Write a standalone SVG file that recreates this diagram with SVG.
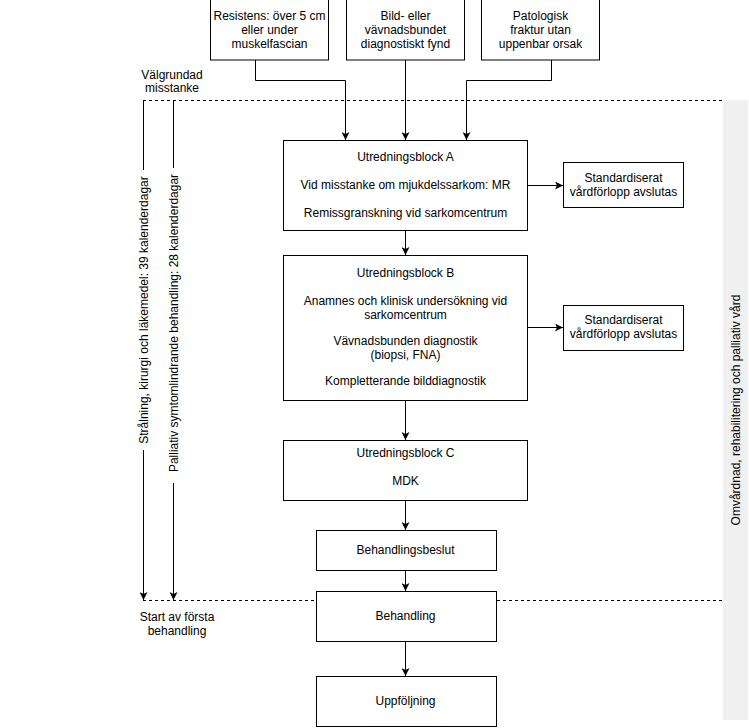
<svg xmlns="http://www.w3.org/2000/svg" width="749" height="728" viewBox="0 0 749 728">
<style>
  .box { fill: #ffffff; stroke: #000000; stroke-width: 1; }
  .t { font-family: "Liberation Sans", Arial, sans-serif; font-size: 12px; fill: #000000; text-anchor: middle; }
  .edge { fill: none; stroke: #000000; stroke-width: 1; }
  .dash { fill: none; stroke: #000000; stroke-width: 1; stroke-dasharray: 3 3; }
</style>
<defs>
  <marker id="arrow" markerUnits="userSpaceOnUse" viewBox="0 0 8 8" refX="8" refY="4" markerWidth="8" markerHeight="8" orient="auto">
    <path d="M0,0 L8,4 L0,8 L2,4 Z" fill="#000000"/>
  </marker>
</defs>
<rect width="749" height="728" fill="#ffffff"/>

<g id="side-band">
  <rect x="723" y="100" width="25" height="620" fill="#f0f0f0"/>
  <text class="t" transform="translate(740,410) rotate(-90)">Omvårdnad, rehabilitering och palliativ vård</text>
</g>

<g id="milestones">
  <line class="dash" x1="143" y1="100.5" x2="722" y2="100.5"/>
  <line class="dash" x1="143" y1="600.5" x2="722" y2="600.5"/>
  <text class="t" x="172" y="79">Välgrundad</text>
  <text class="t" x="172" y="92">misstanke</text>
  <text class="t" x="177" y="621">Start av första</text>
  <text class="t" x="177" y="635">behandling</text>
</g>

<g id="connectors">
  <path class="edge" d="M255.5,60 V80.5 H345.5 V140" marker-end="url(#arrow)"/>
  <path class="edge" d="M405.5,60 V140" marker-end="url(#arrow)"/>
  <path class="edge" d="M551.5,60 V80.5 H466.5 V140" marker-end="url(#arrow)"/>
  <path class="edge" d="M405.5,230 V255" marker-end="url(#arrow)"/>
  <path class="edge" d="M405.5,400 V440" marker-end="url(#arrow)"/>
  <path class="edge" d="M405.5,500 V530" marker-end="url(#arrow)"/>
  <path class="edge" d="M405.5,570 V591" marker-end="url(#arrow)"/>
  <path class="edge" d="M405.5,641 V676" marker-end="url(#arrow)"/>
  <path class="edge" d="M527,185.5 H563" marker-end="url(#arrow)"/>
  <path class="edge" d="M527,327.5 H563" marker-end="url(#arrow)"/>
  <line class="edge" x1="143.5" y1="100" x2="143.5" y2="170"/>
  <path class="edge" d="M143.5,450 V600" marker-end="url(#arrow)"/>
  <text class="t" transform="translate(147.5,310) rotate(-90)">Strålning, kirurgi och läkemedel: 39 kalenderdagar</text>
  <line class="edge" x1="173.5" y1="100" x2="173.5" y2="168"/>
  <path class="edge" d="M173.5,483 V600" marker-end="url(#arrow)"/>
  <text class="t" transform="translate(177.5,323) rotate(-90)">Palliativ symtomlindrande behandling: 28 kalenderdagar</text>
</g>

<g id="resistens">
  <rect class="box" x="210.5" y="-0.5" width="118" height="60.5"/>
  <text class="t" x="269.5" y="20">Resistens: över 5 cm</text>
  <text class="t" x="269.5" y="34">eller under</text>
  <text class="t" x="269.5" y="48">muskelfascian</text>
</g>
<g id="bild">
  <rect class="box" x="346.5" y="-0.5" width="118" height="60.5"/>
  <text class="t" x="405.5" y="20">Bild- eller</text>
  <text class="t" x="405.5" y="34">vävnadsbundet</text>
  <text class="t" x="405.5" y="48">diagnostiskt fynd</text>
</g>
<g id="patologisk">
  <rect class="box" x="481.5" y="-0.5" width="118" height="60.5"/>
  <text class="t" x="540.5" y="20">Patologisk</text>
  <text class="t" x="540.5" y="34">fraktur utan</text>
  <text class="t" x="540.5" y="48">uppenbar orsak</text>
</g>

<g id="block-a">
  <rect class="box" x="283.5" y="140.5" width="244" height="90"/>
  <text class="t" x="405.5" y="161">Utredningsblock A</text>
  <text class="t" x="405.5" y="189">Vid misstanke om mjukdelssarkom: MR</text>
  <text class="t" x="405.5" y="217">Remissgranskning vid sarkomcentrum</text>
</g>
<g id="std-1">
  <rect class="box" x="563.5" y="162.5" width="120" height="45"/>
  <text class="t" x="623.5" y="182">Standardiserat</text>
  <text class="t" x="623.5" y="196">vårdförlopp avslutas</text>
</g>

<g id="block-b">
  <rect class="box" x="283.5" y="255.5" width="244" height="145"/>
  <text class="t" x="405.5" y="277">Utredningsblock B</text>
  <text class="t" x="405.5" y="305">Anamnes och klinisk undersökning vid</text>
  <text class="t" x="405.5" y="319">sarkomcentrum</text>
  <text class="t" x="405.5" y="345">Vävnadsbunden diagnostik</text>
  <text class="t" x="405.5" y="359">(biopsi, FNA)</text>
  <text class="t" x="405.5" y="385">Kompletterande bilddiagnostik</text>
</g>
<g id="std-2">
  <rect class="box" x="563.5" y="305.5" width="120" height="45"/>
  <text class="t" x="623.5" y="324">Standardiserat</text>
  <text class="t" x="623.5" y="338">vårdförlopp avslutas</text>
</g>

<g id="block-c">
  <rect class="box" x="283.5" y="440.5" width="244" height="60"/>
  <text class="t" x="405.5" y="457">Utredningsblock C</text>
  <text class="t" x="405.5" y="485">MDK</text>
</g>
<g id="beslut">
  <rect class="box" x="316.5" y="530.5" width="180" height="40"/>
  <text class="t" x="405.5" y="554">Behandlingsbeslut</text>
</g>
<g id="behandling">
  <rect class="box" x="316.5" y="591.5" width="180" height="50"/>
  <text class="t" x="405.5" y="620">Behandling</text>
</g>
<g id="uppfoljning">
  <rect class="box" x="316.5" y="676.5" width="180" height="50"/>
  <text class="t" x="405.5" y="705">Uppföljning</text>
</g>
</svg>
